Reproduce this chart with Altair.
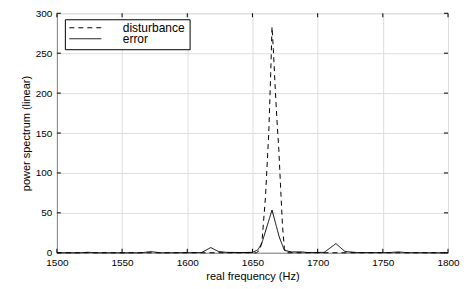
import altair as alt
import pandas as pd

# ---- data ----
series_names = ["disturbance", "error"]

dist_freq = [1500, 1653, 1655.5, 1657.3, 1660, 1662.5, 1664, 1665, 1666, 1667.5,
             1669, 1670.2, 1671.5, 1673, 1674.5, 1676, 1800]
dist_vals = [0, 0, 3, 14, 70, 150, 225, 283, 255, 205,
             160, 130, 85, 35, 5, 0, 0]

err_freq = [1500, 1518, 1524, 1530, 1565, 1572, 1579, 1611, 1618, 1624, 1630,
            1640, 1650, 1654, 1657, 1665, 1670.5, 1674.5, 1680, 1688, 1692,
            1705, 1714, 1721, 1730, 1755, 1762, 1768, 1800]
err_vals = [0, 0, 0.6, 0, 0, 1.5, 0, 0.3, 6.5, 1.5, 0.5,
            0.3, 0.5, 3.5, 11, 53.5, 20, 3, 1, 1, 0.3,
            0.5, 11.5, 1.5, 0.3, 0.3, 1, 0.2, 0]

x_ticks = [1500, 1550, 1600, 1650, 1700, 1750, 1800]
y_ticks = [0, 50, 100, 150, 200, 250, 300]

# ---- tables ----
df = pd.concat([
    pd.DataFrame({"freq": dist_freq, "value": dist_vals, "series": series_names[0]}),
    pd.DataFrame({"freq": err_freq, "value": err_vals, "series": series_names[1]}),
], ignore_index=True)
xt = pd.DataFrame({"freq": x_ticks})
yt = pd.DataFrame({"value": y_ticks})

W, H = 392, 240
TL = 4  # inward tick length (px)
FONT = "Liberation Sans"

x_enc = alt.X("freq:Q", scale=alt.Scale(domain=[1500, 1800], nice=False, zero=False),
              axis=alt.Axis(values=x_ticks, title="real frequency (Hz)", grid=True,
                            ticks=False, labelPadding=5, titlePadding=3, format="d",
                            labelFlush=False, titleFontWeight="normal"))
y_enc = alt.Y("value:Q", scale=alt.Scale(domain=[0, 300], nice=False),
              axis=alt.Axis(values=y_ticks, title="power spectrum (linear)", grid=True,
                            ticks=False, labelPadding=5, titlePadding=4, format="d",
                            labelFlush=False, titleFontWeight="normal"))

lines = alt.Chart(df).mark_line(color="black", strokeWidth=1).encode(
    x=x_enc,
    y=y_enc,
    strokeDash=alt.StrokeDash(
        "series:N",
        scale=alt.Scale(domain=series_names, range=[[5, 4], [1, 0]]),
        legend=alt.Legend(title=None, orient="none", legendX=8, legendY=6,
                          strokeColor="black", fillColor="white", padding=4,
                          symbolType="stroke", symbolSize=1024,
                          symbolStrokeWidth=1, symbolStrokeColor="black",
                          labelFont=FONT, labelFontSize=12, labelColor="black",
                          labelOffset=21, rowPadding=-7, clipHeight=9,
                          labelLimit=300),
    ),
)

tick_x_bottom = alt.Chart(xt).mark_rule(color="black", strokeWidth=1).encode(
    x=x_enc, y=alt.value(H), y2=alt.value(H - TL))
tick_x_top = alt.Chart(xt).mark_rule(color="black", strokeWidth=1).encode(
    x=x_enc, y=alt.value(0), y2=alt.value(TL))
tick_y_left = alt.Chart(yt).mark_rule(color="black", strokeWidth=1).encode(
    y=y_enc, x=alt.value(0), x2=alt.value(TL))
tick_y_right = alt.Chart(yt).mark_rule(color="black", strokeWidth=1).encode(
    y=y_enc, x=alt.value(W), x2=alt.value(W - TL))

chart = alt.layer(lines, tick_x_bottom, tick_x_top, tick_y_left, tick_y_right).properties(
    width=W, height=H,
    padding={"left": 12, "top": 0, "right": 0, "bottom": 0},
).configure_view(
    stroke="black", strokeWidth=1
).configure_axis(
    domainColor="black", domainWidth=1,
    gridColor="#000000", gridOpacity=0.7, gridDash=[1, 4], gridWidth=1,
    labelFont=FONT, labelFontSize=12, labelColor="black",
    titleFont=FONT, titleFontSize=12, titleFontWeight="normal", titleColor="black",
).configure(background="white")

chart.save("out.html", embed_options={"renderer": "svg", "actions": False})
